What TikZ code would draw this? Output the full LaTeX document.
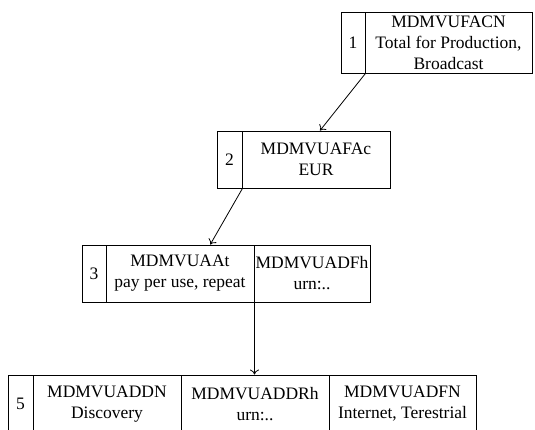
\documentclass[tikz,border=0pt]{standalone}
\usepackage{fontspec}
\setmainfont{Liberation Serif}
\usetikzlibrary{arrows.meta,calc}

\tikzset{
  cell/.style={draw=black, line width=0.9pt, inner sep=0pt, align=center,
               font=\fontsize{17.5}{21}\selectfont},
  link/.style={line width=0.8pt, -{To[length=5pt,width=9pt,line width=0.8pt]}}
}

\begin{document}
\begin{tikzpicture}[x=1pt,y=-1pt]
  \useasboundingbox (0,0) rectangle (535,430);
  \clip (0,0) rectangle (535,430);

  % record 1
  \node[cell, minimum width=24pt,  minimum height=61pt] (n1) at (353,42.5) {1};
  \node[cell, minimum width=167pt, minimum height=61pt] (t1) at (448.5,42.5)
       {MDMVUFACN\\Total for Production,\\Broadcast};

  % record 2
  \node[cell, minimum width=25pt,  minimum height=57pt] (n2) at (229.5,159.5) {2};
  \node[cell, minimum width=148pt, minimum height=57pt] (t2) at (316,159.5)
       {MDMVUAFAc\\EUR};

  % record 3
  \node[cell, minimum width=24pt,  minimum height=57pt] (n3) at (94,273.5) {3};
  \node[cell, minimum width=148pt, minimum height=57pt] (t3a) at (180,273.5)
       {MDMVUAAt\\pay per use, repeat};
  \node[cell, minimum width=116pt, minimum height=57pt] (t3b) at (312,273.5)
       {MDMVUADFh\\urn:..};

  % record 5
  \node[cell, minimum width=25pt,  minimum height=58pt] (n5) at (20.5,404) {5};
  \node[cell, minimum width=148pt, minimum height=58pt] (t5a) at (107,404)
       {MDMVUADDN\\Discovery};
  \node[cell, minimum width=148pt, minimum height=58pt] (t5b) at (255,404)
       {MDMVUADDRh\\urn:..};
  \node[cell, minimum width=147pt, minimum height=58pt] (t5c) at (402.5,404)
       {MDMVUADFN\\Internet, Terestrial};

  % links between records
  \draw[link] (n1.south east) -- ($(t2.north)+(4,0)$);
  \draw[link] (n2.south east) -- ($(t3a.north west)!0.703!(t3a.north east)$);
  \draw[link] (t3a.south east) -- (t3a.south east |- t5b.north);
\end{tikzpicture}
\end{document}
